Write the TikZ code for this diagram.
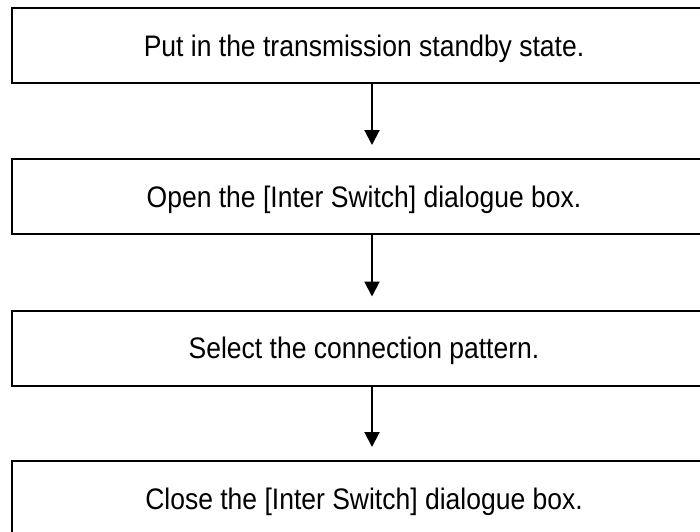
\documentclass[tikz,border=0pt]{standalone}
\usepackage{fontspec}
\usepackage{graphicx}
\setmainfont{Liberation Sans}
\usetikzlibrary{arrows.meta}
\newcommand{\tallText}[1]{\scalebox{1}[1.12]{#1}}
\begin{document}
\begin{tikzpicture}[x=1pt,y=-1pt,
  stepbox/.style={draw=black,line width=2pt,minimum width=704pt,minimum height=75pt,inner sep=0pt,text height=21pt,text depth=0pt,font=\fontsize{26.5}{30}\selectfont,text=black},
  flowarrow/.style={draw=black,line width=2pt,-{Triangle[length=15pt,width=15pt]},shorten >=13pt}]
\useasboundingbox (0,0) rectangle (700,531);
\clip (0,0) rectangle (700,531);
\node[stepbox] (s1) at (364,45.5) {\tallText{Put in the transmission standby state.}};
\node[stepbox] (s2) at (364,196.5) {\tallText{Open the [Inter Switch] dialogue box.}};
\node[stepbox] (s3) at (364,348) {\tallText{Select the connection pattern.}};
\node[stepbox] (s4) at (364,498.5) {\tallText{Close the [Inter Switch] dialogue box.}};
\draw[flowarrow] ([xshift=8pt]s1.south) -- ([xshift=8pt]s2.north);
\draw[flowarrow] ([xshift=8pt]s2.south) -- ([xshift=8pt]s3.north);
\draw[flowarrow] ([xshift=8pt]s3.south) -- ([xshift=8pt]s4.north);
\end{tikzpicture}
\end{document}
